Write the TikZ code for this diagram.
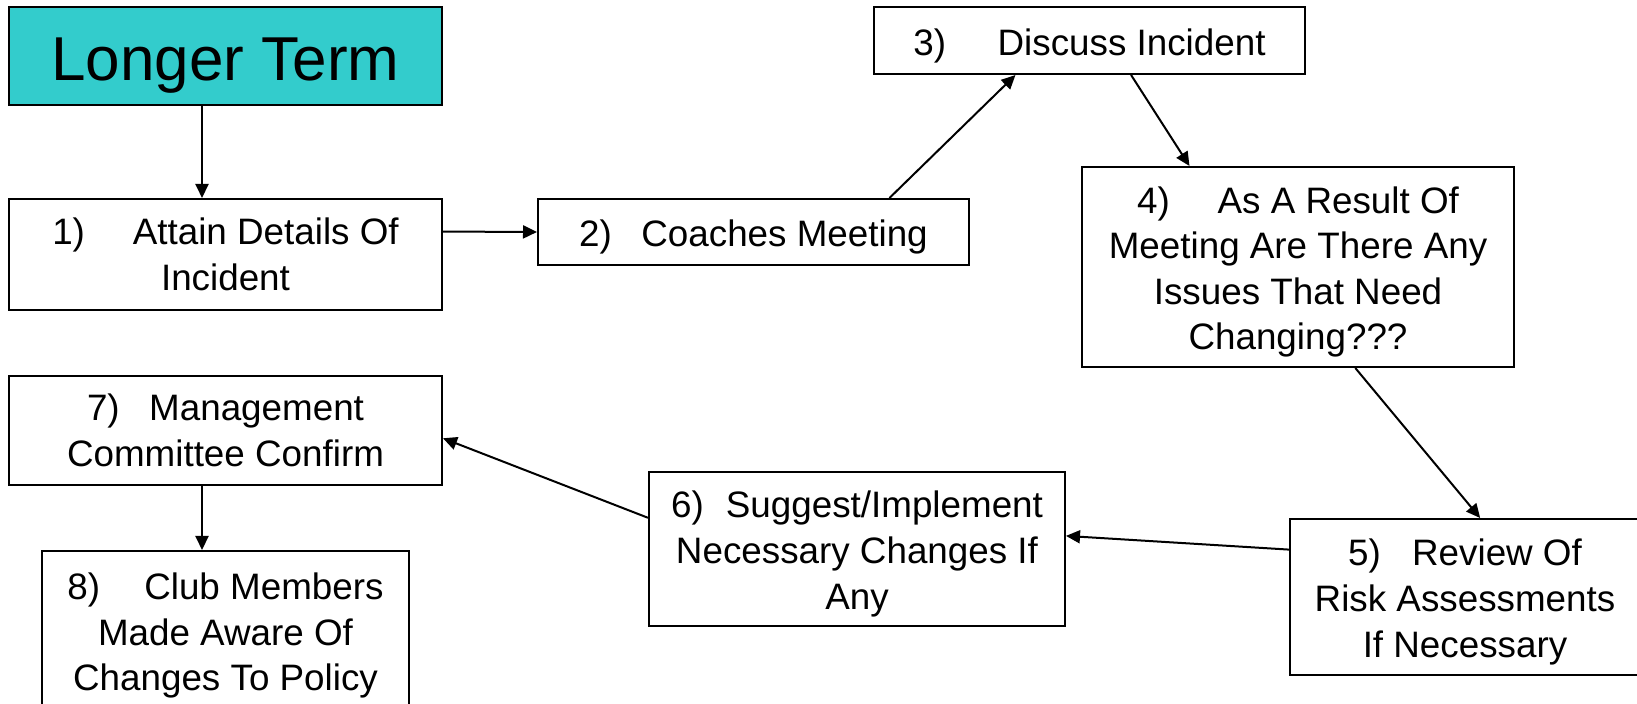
\documentclass[tikz,border=0pt]{standalone}
\usepackage{fontspec}
\setmainfont{Liberation Sans}
\usetikzlibrary{positioning,calc,arrows.meta}
\definecolor{termcyan}{RGB}{51,204,204}
\newcommand{\firstline}{\rule{0pt}{1em}}

\begin{document}
\begin{tikzpicture}[x = 0.5pt, y = -0.5pt,
		main/.style = {draw, line width = 1pt, align = center, inner sep = 0pt, font = \fontsize{18.4}{22.8}\selectfont, execute at begin node = {\rule{0pt}{1em}}},
		arr/.style = {line width = 1pt, -{Triangle[length = 7pt, width = 6.5pt]}}]
		\useasboundingbox (0,0) rectangle (1637,704);
		\node[main, fill = termcyan, minimum width = 216.5pt, minimum height = 49pt, font = \fontsize{31}{37}\selectfont, execute at begin node = {\rule{0pt}{0.95em}}] (0) at (225.5,56) {Longer Term};
		\node[main, minimum width = 216.5pt, minimum height = 55.5pt] (1) at (225.5,254.5) {1)\hspace{1.3em}Attain Details Of\\Incident};
		\node[main, minimum width = 215.5pt, minimum height = 33pt] (2) at (753.5,232) {2)\hspace{0.8em}Coaches Meeting};
		\node[main, minimum width = 215.5pt, minimum height = 33.5pt] (3) at (1089.5,40.5) {3)\hspace{1.4em}Discuss Incident};
		\node[main, minimum width = 216pt, minimum height = 100pt] (4) at (1298,267) {\firstline4)\hspace{1.3em}As A Result Of\\Meeting Are There Any\\Issues That Need\\Changing???};
		\node[main, minimum width = 175pt, minimum height = 78pt] (5) at (1465,597) {\firstline5)\hspace{0.85em}Review Of\\Risk Assessments\\If Necessary};
		\node[main, minimum width = 208pt, minimum height = 77pt] (6) at (857,549) {\firstline6)\hspace{0.6em}Suggest/Implement\\Necessary Changes If\\Any};
		\node[main, minimum width = 216.5pt, minimum height = 54.5pt] (7) at (225.5,430.5) {7)\hspace{0.8em}Management\\Committee Confirm};
		\node[main, minimum width = 183.5pt, minimum height = 79.5pt] (8) at (225.5,630.5) {\firstline8)\hspace{1.2em}Club Members\\Made Aware Of\\Changes To Policy};
		\coordinate (a) at ($(0.south west)!0.446!(0.south east)$);
		\coordinate (b) at ($(7.south west)!0.446!(7.south east)$);
		\draw[arr] (a) -- (a |- 1.north);
		\draw[arr] ($(1.north east)!0.297!(1.south east)$) -- (2.west);
		\draw[arr] ($(2.north west)!0.814!(2.north east)$) -- ($(3.south west)!0.329!(3.south east)$);
		\draw[arr] ($(3.south west)!0.596!(3.south east)$) -- ($(4.north west)!0.25!(4.north east)$);
		\draw[arr] ($(4.south west)!0.632!(4.south east)$) -- ($(5.north west)!0.543!(5.north east)$);
		\draw[arr] ($(5.north west)!0.2!(5.south west)$) -- ($(6.north east)!0.416!(6.south east)$);
		\draw[arr] ($(6.north west)!0.3!(6.south west)$) -- ($(7.north east)!0.57!(7.south east)$);
		\draw[arr] (b) -- (b |- 8.north);
	\end{tikzpicture}
\end{document}
